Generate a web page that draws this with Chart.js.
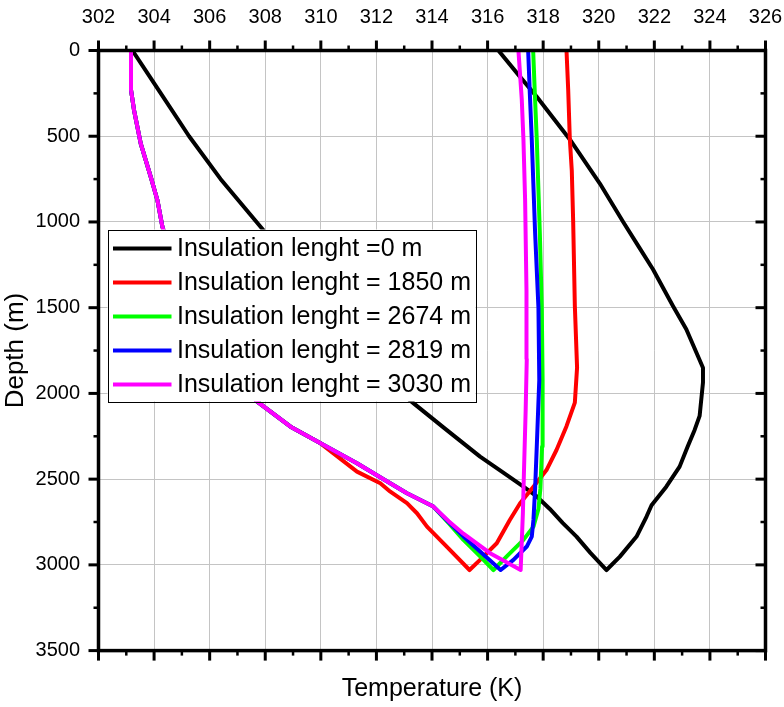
<!DOCTYPE html>
<html>
<head>
<meta charset="utf-8">
<script src="https://cdn.jsdelivr.net/npm/chart.js@4.4.1/dist/chart.umd.min.js"></script>
<style>
html,body{margin:0;padding:0;background:#fff;}
#wrap{width:784px;height:707px;position:relative;}
</style>
</head>
<body>
<div id="wrap"><canvas id="c" width="784" height="707"></canvas></div>
<script>
// ---------- DATA ----------
const tempTickLabels  = [302,304,306,308,310,312,314,316,318,320,322,324,326];
const depthTickLabels = [0,500,1000,1500,2000,2500,3000,3500];
const seriesNames = [
  'Insulation lenght =0 m',
  'Insulation lenght = 1850 m',
  'Insulation lenght = 2674 m',
  'Insulation lenght = 2819 m',
  'Insulation lenght = 3030 m'
];
const seriesColors = ['#000000','#ff0000','#00ff00','#0000ff','#ff00ff'];

// Insulation length 0 m
const temp0  = [303.22,304.2,305.26,306.39,307.89,309.9,311.8,313.34,314.5,315.73,316.5,317.29,317.77,318.24,318.7,319.2,319.7,320.28,
                320.76,321.36,321.72,321.9,322.43,322.91,323.2,323.45,323.63,323.75,323.75,323.15,322.67,321.95,321.46,320.88,320.04,318.96,317.77,317.17,316.39];
const depth0 = [0,240,500,749,1040,1450,1850,2058,2210,2369,2455,2544,2601,2674,2755,2835,2930,3030,
                2952,2835,2718,2652,2544,2427,2310,2213,2131,1937,1850,1626,1490,1276,1150,1000,776,519,270,154,0];

// Insulation length 1850 m
const temp1850  = [303.17,303.17,303.28,303.52,303.88,304.12,304.3,304.45,304.9,305.6,306.5,307.71,308.91,309.99,
                   311.3,312.14,312.5,313.1,313.46,313.82,314.6,315.35,
                   315.73,316.33,316.8,317.17,317.65,318.12,318.48,318.84,319.14,319.22,319.14,319.08,319.03,318.96,318.9,318.84];
const depth1850 = [0,230,349,543,737,873,1029,1100,1350,1600,1850,2048,2194,2291,
                   2456,2524,2573,2640,2699,2777,2905,3030,
                   2971,2874,2738,2641,2544,2447,2330,2191,2054,1850,1490,1000,700,519,227,0];

// Insulation length 2674 m
const temp2674  = [303.17,303.17,303.28,303.52,303.88,304.12,304.3,304.45,304.9,305.6,306.5,307.71,308.91,309.99,
                   311.3,312.3,313.1,314.05,314.6,315.13,315.73,316.21,
                   316.69,317.29,317.65,317.83,317.9,317.96,317.98,317.95,317.88,317.77,317.7,317.64];
const depth2674 = [0,230,349,543,737,873,1029,1100,1350,1600,1850,2048,2194,2291,
                   2407,2505,2582,2660,2757,2854,2950,3030,
                   2950,2854,2777,2674,2557,2310,1922,1500,1063,519,250,0];

// Insulation length 2819 m
const temp2819  = [303.17,303.17,303.28,303.52,303.88,304.12,304.3,304.45,304.9,305.6,306.5,307.71,308.91,309.99,
                   311.3,312.3,313.1,314.05,314.6,315.13,315.73,316.47,
                   316.93,317.41,317.59,317.65,317.71,317.77,317.86,317.83,317.71,317.59,317.52,317.46];
const depth2819 = [0,230,349,543,737,873,1029,1100,1350,1600,1850,2048,2194,2291,
                   2407,2505,2582,2660,2750,2834,2922,3030,
                   2971,2893,2835,2738,2557,2310,1922,1500,1063,519,250,0];

// Insulation length 3030 m
const temp3030  = [303.17,303.17,303.28,303.52,303.88,304.12,304.3,304.45,304.9,305.6,306.5,307.71,308.91,309.99,
                   311.3,312.3,313.1,314.05,314.6,315.13,316.09,317.19,
                   317.27,317.31,317.37,317.41,317.4,317.35,317.29,317.23,317.11];
const depth3030 = [0,230,349,543,737,873,1029,1100,1350,1600,1850,2048,2194,2291,
                   2407,2505,2582,2660,2745,2818,2932,3030,
                   2700,2450,2100,1800,1400,869,519,285,0];

const seriesTemps  = [temp0, temp1850, temp2674, temp2819, temp3030];
const seriesDepths = [depth0, depth1850, depth2674, depth2819, depth3030];

// ---------- CHART ----------
const FONT = "'Liberation Sans', Arial, sans-serif";

const datasets = seriesNames.map((name, i) => ({
  label: name,
  data: seriesTemps[i].map((t, k) => ({x: t, y: seriesDepths[i][k]})),
  showLine: true,
  borderColor: seriesColors[i],
  backgroundColor: seriesColors[i],
  borderWidth: 4,
  borderJoinStyle: 'round',
  pointRadius: 0,
  pointHoverRadius: 0,
  tension: 0,
  fill: false,
  xAxisID: 'x',
  yAxisID: 'y',
  order: seriesNames.length - i
}));

const framePlugin = {
  id: 'frameAndLegend',
  afterDatasetsDraw(chart) {
    const {ctx, chartArea: a} = chart;
    const lx = a.left + 9, ly = a.top + 179, lw = 368, lh = 172;
    ctx.save();
    ctx.fillStyle = '#ffffff';
    ctx.fillRect(lx, ly, lw, lh);
    ctx.strokeStyle = '#000';
    ctx.lineWidth = 1;
    ctx.strokeRect(Math.round(lx) + 0.5, Math.round(ly) + 0.5, lw, lh);
    chart.data.datasets.forEach((ds, i) => {
      const y = ly + 19 + i * 34;
      ctx.strokeStyle = ds.borderColor;
      ctx.lineWidth = 4;
      ctx.beginPath();
      ctx.moveTo(lx + 5.5, y);
      ctx.lineTo(lx + 64, y);
      ctx.stroke();
      ctx.fillStyle = '#000';
      ctx.font = '25px ' + FONT;
      ctx.textBaseline = 'middle';
      ctx.textAlign = 'left';
      ctx.fillText(ds.label, lx + 69.5, y + 1);
    });
    ctx.restore();
  },
  afterDraw(chart) {
    const {ctx, chartArea: a, scales} = chart;
    const xs = scales.x, ys = scales.y;
    ctx.save();
    ctx.strokeStyle = '#000';
    const seg = (x1, y1, x2, y2) => { ctx.beginPath(); ctx.moveTo(x1, y1); ctx.lineTo(x2, y2); ctx.stroke(); };
    const tMin = tempTickLabels[0], tMax = tempTickLabels[tempTickLabels.length - 1];
    const tStep = (tempTickLabels[1] - tempTickLabels[0]) / 2;
    for (let v = tMin; v <= tMax + 1e-9; v += tStep) {
      const px = xs.getPixelForValue(v);
      const major = tempTickLabels.includes(v);
      const L = major ? 10 : 5;
      ctx.lineWidth = major ? 3 : 2.5;
      seg(px, a.top, px, a.top - L);
      seg(px, a.bottom, px, a.bottom + L);
    }
    const dMin = depthTickLabels[0], dMax = depthTickLabels[depthTickLabels.length - 1];
    const dStep = (depthTickLabels[1] - depthTickLabels[0]) / 2;
    for (let v = dMin; v <= dMax + 1e-9; v += dStep) {
      const py = ys.getPixelForValue(v);
      const major = depthTickLabels.includes(v);
      const L = major ? 10 : 5;
      ctx.lineWidth = major ? 3 : 2.5;
      seg(a.left, py, a.left - L, py);
      seg(a.right, py, a.right - L, py);
    }
    ctx.lineWidth = 3.5;
    ctx.strokeRect(a.left, a.top, a.right - a.left, a.bottom - a.top);
    ctx.restore();
  }
};

new Chart(document.getElementById('c'), {
  type: 'scatter',
  data: {datasets},
  options: {
    responsive: false,
    animation: false,
    devicePixelRatio: 1,
    layout: {padding: 0},
    plugins: {legend: {display: false}, tooltip: {enabled: false}},
    scales: {
      x: {
        type: 'linear', position: 'top',
        min: tempTickLabels[0], max: tempTickLabels[tempTickLabels.length - 1],
        afterBuildTicks: s => { s.ticks = tempTickLabels.map(v => ({value: v})); },
        afterFit: s => { s.height = 50.5; },
        ticks: {color: '#000', font: {family: FONT, size: 20}, padding: 0, maxRotation: 0, autoSkip: false,
                callback: v => String(v)},
        grid: {color: '#c4c4c4', lineWidth: 1, drawTicks: true, tickLength: 21, tickColor: 'rgba(0,0,0,0)'},
        border: {display: false}
      },
      x2: {
        type: 'linear', position: 'bottom',
        min: tempTickLabels[0], max: tempTickLabels[tempTickLabels.length - 1],
        afterFit: s => { s.height = 56.4; },
        ticks: {display: false, padding: 0},
        grid: {display: false, drawTicks: false},
        border: {display: false},
        title: {display: true, text: 'Temperature (K)', color: '#000', font: {family: FONT, size: 25}, padding: {top: 0, bottom: 2.6}}
      },
      y: {
        type: 'linear', position: 'left', reverse: true,
        min: depthTickLabels[0], max: depthTickLabels[depthTickLabels.length - 1],
        afterBuildTicks: s => { s.ticks = depthTickLabels.map(v => ({value: v})); },
        afterFit: s => { s.width = 98.5; },
        ticks: {color: '#000', font: {family: FONT, size: 20}, padding: 0, autoSkip: false,
                callback: v => String(v)},
        grid: {color: '#c4c4c4', lineWidth: 1, drawTicks: true, tickLength: 18.5, tickColor: 'rgba(0,0,0,0)'},
        border: {display: false},
        title: {display: true, text: 'Depth (m)', color: '#000', font: {family: FONT, size: 26}, padding: {top: 0, bottom: 0}}
      },
      y2: {
        type: 'linear', position: 'right', reverse: true,
        min: depthTickLabels[0], max: depthTickLabels[depthTickLabels.length - 1],
        afterFit: s => { s.width = 18.5; },
        ticks: {display: false, padding: 0},
        grid: {display: false, drawTicks: false},
        border: {display: false}
      }
    }
  },
  plugins: [framePlugin]
});
</script>
</body>
</html>
